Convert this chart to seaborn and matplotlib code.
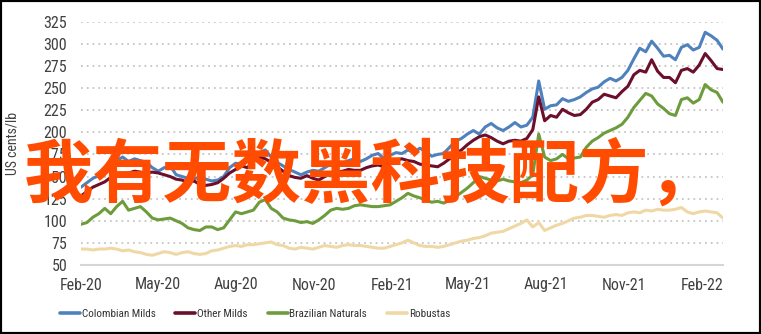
import matplotlib
matplotlib.use("Agg")
import matplotlib.pyplot as plt
from matplotlib import font_manager as fm
from matplotlib.font_manager import FontProperties
from matplotlib.patches import Rectangle
import seaborn as sns
import pandas as pd
import numpy as np

# ---------------- data (weekly readings, US cents/lb) ----------------
series_names = ["Colombian Milds", "Other Milds", "Brazilian Naturals", "Robustas"]
start_date = "2020-02-01"

colombian_milds = [
    138, 143, 148, 151, 160, 166, 168, 172, 167, 170,
    168, 166, 160, 156, 160, 162, 152, 150, 148, 147,
    150, 147, 145, 146, 150, 160, 165, 164, 168, 174,
    177, 180, 172, 166, 162, 158, 155, 152, 155, 157,
    156, 160, 164, 166, 165, 168, 170, 167, 170, 174,
    176, 170, 174, 177, 176, 180, 177, 182, 178, 173,
    175, 176, 183, 190, 193, 198, 202, 198, 206, 210,
    205, 202, 206, 211, 206, 208, 217, 258, 226, 230,
    231, 238, 235, 237, 240, 245, 249, 251, 257, 261,
    258, 262, 270, 283, 295, 291, 303, 295, 286, 287,
    282, 296, 299, 293, 296, 313, 309, 304, 294,
]
other_milds = [
    128, 133, 138, 141, 144, 149, 150, 153, 154, 156,
    155, 154, 155, 154, 152, 150, 147, 146, 143, 145,
    141, 140, 141, 143, 148, 154, 158, 162, 160, 168,
    172, 170, 166, 161, 156, 151, 149, 148, 151, 148,
    146, 150, 153, 155, 156, 158, 157, 157, 160, 162,
    163, 161, 165, 169, 170, 168, 167, 164, 163, 162,
    161, 165, 170, 176, 180, 186, 191, 195, 197, 194,
    190, 187, 190, 191, 190, 193, 203, 240, 213, 219,
    217, 226, 222, 219, 220, 226, 234, 237, 243, 241,
    239, 246, 252, 265, 270, 268, 282, 269, 262, 262,
    256, 270, 272, 268, 276, 289, 281, 272, 271,
]
brazilian_naturals = [
    96, 98, 104, 108, 114, 108, 116, 122, 112, 114,
    116, 110, 103, 101, 102, 103, 100, 97, 92, 90,
    89, 93, 93, 90, 92, 101, 110, 108, 110, 112,
    121, 124, 114, 110, 103, 101, 100, 98, 99, 97,
    101, 106, 112, 114, 113, 114, 117, 118, 117, 116,
    116, 117, 118, 122, 126, 131, 128, 126, 123, 121,
    122, 120, 123, 127, 132, 137, 143, 150, 148, 146,
    145, 147, 145, 144, 143, 146, 152, 198, 172, 168,
    170, 175, 170, 171, 172, 183, 190, 194, 199, 202,
    205, 209, 217, 228, 236, 244, 241, 232, 227, 221,
    219, 237, 239, 233, 237, 254, 248, 245, 234,
]
robustas = [
    68, 68, 67, 68, 68, 69, 68, 66, 67, 65,
    64, 62, 61, 63, 65, 64, 62, 64, 65, 63,
    62, 63, 66, 67, 69, 71, 72, 71, 73, 73,
    74, 75, 76, 73, 72, 69, 68, 70, 69, 68,
    70, 72, 71, 70, 72, 73, 72, 72, 71, 70,
    69, 69, 71, 73, 75, 78, 75, 72, 71, 71,
    70, 71, 73, 75, 77, 78, 80, 81, 83, 86,
    87, 88, 91, 94, 97, 101, 93, 98, 89, 92,
    95, 97, 100, 103, 104, 106, 106, 105, 104, 106,
    107, 106, 109, 110, 109, 112, 111, 113, 112, 112,
    113, 115, 110, 108, 110, 111, 110, 109, 103,
]

tick_dates = ["2020-02-01", "2020-05-01", "2020-08-01", "2020-11-01",
              "2021-02-01", "2021-05-01", "2021-08-01", "2021-11-01",
              "2022-02-01"]
tick_labels = ["Feb-20", "May-20", "Aug-20", "Nov-20", "Feb-21",
               "May-21", "Aug-21", "Nov-21", "Feb-22"]
y_ticks = [50, 75, 100, 125, 150, 175, 200, 225, 250, 275, 300, 325]
y_label = "US cents/lb"
overlay_text = "我有无数黑科技配方，"

colors = {"Colombian Milds": "#4f81bd", "Other Milds": "#6b0f2b",
          "Brazilian Naturals": "#6e9c3c", "Robustas": "#efd8a6"}


# ---------------- pick a condensed face if one is installed ----------------
def pick_condensed():
    prefs = ["Liberation Sans Narrow", "Roboto Condensed", "Open Sans Condensed",
             "Noto Sans", "DejaVu Sans", "Open Sans", "Roboto"]
    found = []
    for f in fm.fontManager.ttflist:
        nm = f.name
        cond = ("Narrow" in nm or "Condensed" in nm or "Condensed" in f.fname
                or "Narrow" in f.fname or f.stretch in ("condensed", "semi-condensed"))
        if not cond or f.style != "normal":
            continue
        w = f.weight if isinstance(f.weight, int) else 400
        if w != 400:
            continue
        found.append(f)
    for p in prefs:
        for f in found:
            if f.name.startswith(p):
                return FontProperties(fname=f.fname), True
    if found:
        return FontProperties(fname=found[0].fname), True
    return FontProperties(family=["Liberation Sans", "DejaVu Sans"]), False


base_fp, is_cond = pick_condensed()

# ---------------- frame ----------------
values = [colombian_milds, other_milds, brazilian_naturals, robustas]
n = len(colombian_milds)
dates = pd.date_range(start_date, periods=n, freq="7D")
df = pd.DataFrame({
    "date": np.tile(dates, len(series_names)),
    "series": np.repeat(series_names, n),
    "value": np.concatenate(values),
})

sns.set_theme(style="white")
plt.rcParams["font.family"] = ["Liberation Sans", "DejaVu Sans"]

W, H = 761, 334
fig = plt.figure(figsize=(W / 100, H / 100), dpi=100)
ax = fig.add_axes([81 / W, 1 - 265 / H, (723 - 81) / W, (265 - 21.7) / H])

sns.lineplot(data=df, x="date", y="value", hue="series", hue_order=series_names,
             palette=colors, linewidth=2.2, ax=ax, legend=True)

handles, labels = ax.get_legend_handles_labels()
ax.get_legend().remove()

ax.set_xlim(dates[0], dates[-1])
ax.set_ylim(50, 325)
ax.set_yticks(y_ticks)
ax.set_yticklabels([str(v) for v in y_ticks])
ax.set_xticks(pd.to_datetime(tick_dates))
ax.set_xticklabels(tick_labels)
ax.set_xlabel("")

tick_size = 11.5 if is_cond else 9.8
leg_size = 8 if is_cond else 7.2

lab_fp = base_fp.copy()
lab_fp.set_size(10)
ax.set_ylabel(y_label, fontproperties=lab_fp, color="#404040", labelpad=17)

ax.tick_params(axis="both", length=0, colors="#404040")
ax.tick_params(axis="y", pad=10)
ax.tick_params(axis="x", pad=9)
for t in ax.get_xticklabels() + ax.get_yticklabels():
    fp = base_fp.copy()
    fp.set_size(tick_size)
    t.set_fontproperties(fp)

ax.yaxis.grid(True, linestyle=(0, (1, 2.2)), color="#c6c6c6", linewidth=1.3)
ax.xaxis.grid(False)
for s in ["top", "right", "left"]:
    ax.spines[s].set_visible(False)
ax.spines["bottom"].set_color("#d6d6d6")
ax.spines["bottom"].set_linewidth(1.5)
ax.set_axisbelow(True)

leg_fp = base_fp.copy()
leg_fp.set_size(leg_size)
leg = fig.legend(handles, labels, loc="center", bbox_to_anchor=(255 / W, 1 - 314 / H),
                 ncol=4, frameon=False, prop=leg_fp, handlelength=1.8,
                 handletextpad=0.15, columnspacing=1.8)
for h in leg.get_lines():
    h.set_linewidth(2.6)
for t in leg.get_texts():
    t.set_color("#333333")

fig.text(24 / W, 1 - 176 / H, overlay_text, fontsize=50, fontweight="bold",
         color="#ff4c00", ha="left", va="center",
         family=["Noto Sans CJK SC", "DejaVu Sans"], zorder=10)

fig.patches.append(Rectangle((0, 0), 1, 1, transform=fig.transFigure, fill=False,
                             edgecolor="black", linewidth=3, zorder=20))

fig.savefig("out.png", dpi=100)
